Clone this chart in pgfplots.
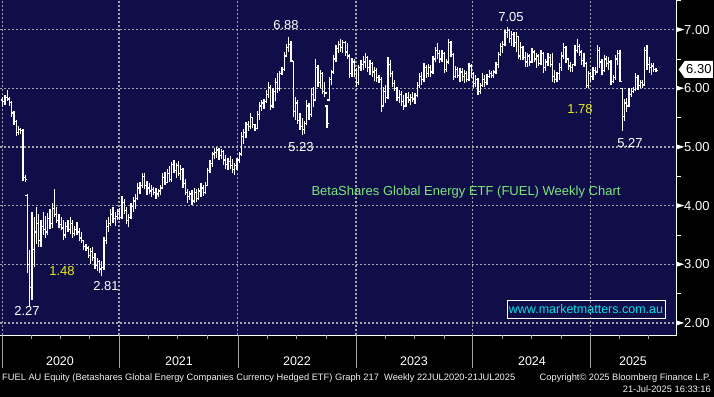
\documentclass[border=0pt]{standalone}
\usepackage{pgfplots}
\pgfplotsset{compat=1.18}
\usepackage{pgfplotstable}
\usepackage{fontspec}
\setmainfont{Liberation Sans}
\usetikzlibrary{shapes.symbols}
\definecolor{navybg}{RGB}{16,14,72}
\definecolor{gridc}{RGB}{165,165,165}
\definecolor{lgreen}{RGB}{125,230,125}
\definecolor{cyanx}{RGB}{0,225,235}
\definecolor{yel}{RGB}{235,235,20}
\newcommand{\fs}[1]{\fontsize{#1bp}{#1bp}\selectfont}

\pgfplotstableread{
w o h l c
0 5.80 5.85 5.68 5.78
1 5.78 5.88 5.72 5.84
2 5.84 5.97 5.78 5.82
3 5.82 5.86 5.70 5.76
4 5.76 5.78 5.52 5.58
5 5.58 5.62 5.38 5.44
6 5.44 5.46 5.18 5.25
7 5.25 5.35 5.20 5.30
8 5.30 5.33 5.22 5.28
9 5.28 5.30 4.42 4.48
10 4.48 4.52 4.40 4.45
11 4.18 4.20 2.85 3.00
12 3.00 3.25 2.27 2.60
13 2.60 3.90 2.40 3.25
14 3.25 3.80 2.95 3.55
15 3.55 3.97 3.35 3.70
16 3.70 3.85 3.30 3.40
17 3.40 3.75 3.30 3.65
18 3.65 3.90 3.50 3.60
19 3.60 3.82 3.45 3.55
20 3.55 3.88 3.50 3.78
21 3.78 3.95 3.60 3.70
22 3.70 4.05 3.62 3.95
23 3.95 4.28 3.80 3.85
24 3.85 3.98 3.70 3.75
25 3.75 3.85 3.62 3.68
26 3.68 3.80 3.58 3.62
27 3.62 3.75 3.42 3.50
28 3.50 3.72 3.45 3.65
29 3.65 3.75 3.55 3.60
30 3.60 3.80 3.52 3.70
31 3.70 3.75 3.45 3.52
32 3.52 3.65 3.48 3.60
33 3.60 3.72 3.50 3.55
34 3.55 3.62 3.40 3.45
35 3.45 3.55 3.36 3.40
36 3.40 3.42 3.25 3.30
37 3.30 3.35 3.22 3.28
38 3.28 3.32 3.10 3.15
39 3.15 3.28 3.00 3.22
40 3.22 3.30 3.05 3.12
41 3.12 3.20 2.92 2.98
42 2.98 3.10 2.88 3.05
43 3.05 3.08 2.85 2.92
44 2.92 3.05 2.81 2.95
45 2.95 3.46 2.90 3.40
46 3.40 3.75 3.35 3.65
47 3.65 3.80 3.55 3.70
48 3.70 3.95 3.65 3.85
49 3.85 3.98 3.70 3.78
50 3.78 3.90 3.66 3.82
51 3.82 3.95 3.75 3.90
52 3.90 3.96 3.76 3.80
53 3.80 4.16 3.78 4.05
54 4.05 4.12 3.85 3.92
55 3.92 3.98 3.68 3.75
56 3.75 3.85 3.64 3.80
57 3.80 4.05 3.78 3.98
58 3.98 4.15 3.90 4.08
59 4.08 4.20 3.95 4.12
60 4.12 4.38 4.10 4.30
61 4.30 4.40 4.20 4.35
62 4.35 4.56 4.30 4.50
63 4.50 4.55 4.28 4.35
64 4.35 4.42 4.18 4.30
65 4.30 4.38 4.20 4.25
66 4.25 4.35 4.15 4.28
67 4.28 4.32 4.18 4.22
68 4.22 4.30 4.12 4.20
69 4.20 4.28 4.15 4.25
70 4.25 4.35 4.18 4.30
71 4.30 4.55 4.28 4.48
72 4.48 4.58 4.35 4.40
73 4.40 4.62 4.38 4.55
74 4.55 4.68 4.40 4.45
75 4.45 4.75 4.40 4.70
76 4.70 4.78 4.55 4.60
77 4.60 4.72 4.48 4.68
78 4.68 4.76 4.50 4.55
79 4.55 4.70 4.44 4.62
80 4.62 4.65 4.30 4.38
81 4.38 4.45 4.18 4.22
82 4.22 4.28 4.05 4.15
83 4.15 4.25 4.10 4.20
84 4.20 4.27 4.01 4.08
85 4.08 4.30 4.05 4.22
86 4.22 4.28 4.06 4.12
87 4.12 4.30 4.10 4.25
88 4.25 4.38 4.15 4.30
89 4.30 4.35 4.16 4.22
90 4.22 4.40 4.20 4.35
91 4.35 4.65 4.33 4.60
92 4.60 4.78 4.55 4.72
93 4.72 4.92 4.66 4.88
94 4.88 4.98 4.80 4.90
95 4.90 5.00 4.82 4.95
96 4.95 4.98 4.78 4.85
97 4.85 4.96 4.80 4.92
98 4.92 4.95 4.70 4.78
99 4.78 4.86 4.62 4.70
100 4.70 4.82 4.60 4.75
101 4.75 4.84 4.62 4.68
102 4.68 4.80 4.55 4.62
103 4.62 4.72 4.52 4.68
104 4.68 4.82 4.60 4.78
105 4.78 4.92 4.72 4.88
106 4.88 5.25 4.85 5.18
107 5.18 5.30 5.05 5.25
108 5.25 5.42 5.15 5.38
109 5.38 5.45 5.28 5.35
110 5.35 5.58 5.30 5.50
111 5.50 5.52 5.32 5.38
112 5.38 5.40 5.28 5.32
113 5.32 5.62 5.30 5.55
114 5.55 5.77 5.46 5.70
115 5.70 5.80 5.62 5.75
116 5.75 5.82 5.65 5.78
117 5.78 5.97 5.75 5.90
118 5.90 6.10 5.84 6.02
119 6.02 6.05 5.63 5.70
120 5.70 6.00 5.66 5.95
121 5.95 6.18 5.78 6.10
122 6.10 6.26 5.92 6.00
123 6.00 6.30 5.95 6.25
124 6.25 6.36 6.22 6.32
125 6.32 6.62 6.30 6.55
126 6.55 6.75 6.55 6.70
127 6.70 6.88 6.62 6.75
128 6.75 6.80 6.45 6.48
129 6.46 6.46 5.51 5.60
130 5.60 5.85 5.46 5.75
131 5.75 5.80 5.40 5.45
132 5.45 5.58 5.29 5.35
133 5.35 5.50 5.20 5.30
134 5.30 5.45 5.23 5.40
135 5.40 5.80 5.38 5.70
136 5.70 5.75 5.46 5.55
137 5.55 6.00 5.52 5.90
138 5.90 6.02 5.68 5.80
139 5.80 6.50 5.78 6.35
140 6.35 6.40 6.02 6.10
141 6.10 6.31 6.00 6.25
142 6.25 6.28 5.90 5.95
143 5.95 6.11 5.85 5.92
144 5.70 5.71 5.32 5.40
145 5.80 6.20 5.78 6.15
146 6.15 6.32 6.05 6.28
147 6.28 6.57 6.25 6.50
148 6.50 6.74 6.45 6.68
149 6.68 6.80 6.60 6.75
150 6.75 6.84 6.62 6.70
151 6.70 6.82 6.60 6.78
152 6.78 6.80 6.55 6.62
153 6.62 6.77 6.50 6.55
154 6.55 6.58 6.18 6.25
155 6.25 6.52 6.19 6.45
156 6.45 6.50 6.20 6.30
157 6.30 6.35 6.02 6.10
158 6.10 6.40 6.05 6.35
159 6.35 6.48 6.30 6.40
160 6.40 6.55 6.32 6.45
161 6.45 6.60 6.35 6.52
162 6.52 6.55 6.28 6.35
163 6.35 6.48 6.23 6.42
164 6.42 6.45 6.20 6.28
165 6.28 6.36 6.12 6.30
166 6.30 6.35 6.11 6.18
167 6.18 6.23 6.09 6.15
168 6.15 6.20 5.60 5.70
169 5.70 6.02 5.68 5.95
170 5.95 6.05 5.75 5.85
171 5.85 6.53 5.82 6.40
172 6.40 6.48 6.19 6.25
173 6.25 6.30 6.02 6.08
174 6.08 6.15 5.95 6.00
175 6.00 6.02 5.78 5.85
176 5.85 5.97 5.75 5.90
177 5.90 5.95 5.70 5.78
178 5.78 5.89 5.63 5.70
179 5.70 5.92 5.68 5.85
180 5.85 5.94 5.75 5.80
181 5.80 5.90 5.72 5.85
182 5.85 5.94 5.76 5.82
183 5.82 5.92 5.74 5.88
184 5.88 6.10 5.85 6.05
185 6.05 6.26 6.00 6.20
186 6.20 6.28 6.05 6.15
187 6.15 6.43 6.10 6.35
188 6.35 6.40 6.18 6.25
189 6.25 6.42 6.19 6.35
190 6.35 6.40 6.20 6.28
191 6.28 6.55 6.25 6.50
192 6.50 6.71 6.45 6.65
193 6.65 6.78 6.50 6.60
194 6.60 6.66 6.43 6.50
195 6.50 6.65 6.45 6.60
196 6.60 6.62 6.26 6.32
197 6.32 6.50 6.28 6.45
198 6.45 6.84 6.42 6.78
199 6.78 6.80 6.53 6.58
200 6.58 6.60 6.14 6.20
201 6.20 6.38 6.18 6.32
202 6.32 6.36 6.18 6.22
203 6.22 6.35 6.10 6.28
204 6.28 6.35 6.12 6.20
205 6.20 6.32 6.09 6.25
206 6.25 6.30 6.10 6.15
207 6.15 6.43 6.12 6.38
208 6.38 6.42 6.18 6.25
209 6.25 6.28 6.00 6.08
210 6.08 6.22 6.02 6.15
211 6.15 6.18 5.89 5.95
212 5.95 6.09 5.90 6.05
213 6.05 6.26 6.02 6.15
214 6.15 6.22 6.02 6.10
215 6.10 6.25 6.05 6.20
216 6.20 6.31 6.18 6.25
217 6.25 6.30 6.18 6.22
218 6.22 6.31 6.18 6.28
219 6.28 6.45 6.25 6.40
220 6.40 6.62 6.35 6.58
221 6.58 6.77 6.55 6.72
222 6.72 6.80 6.60 6.75
223 6.75 7.00 6.72 6.95
224 6.95 7.05 6.85 6.98
225 6.98 7.02 6.78 6.85
226 6.85 6.98 6.72 6.92
227 6.92 6.96 6.70 6.78
228 6.78 6.96 6.62 6.88
229 6.88 6.90 6.50 6.55
230 6.55 6.79 6.48 6.70
231 6.70 6.72 6.48 6.52
232 6.52 6.62 6.36 6.45
233 6.45 6.60 6.36 6.55
234 6.55 6.58 6.38 6.45
235 6.45 6.69 6.43 6.62
236 6.62 6.66 6.45 6.50
237 6.50 6.60 6.35 6.55
238 6.55 6.58 6.38 6.42
239 6.42 6.66 6.40 6.60
240 6.60 6.62 6.26 6.35
241 6.35 6.50 6.30 6.45
242 6.45 6.60 6.38 6.52
243 6.52 6.58 6.36 6.40
244 6.40 6.60 6.11 6.20
245 6.20 6.31 6.09 6.15
246 6.15 6.28 6.10 6.25
247 6.25 6.43 6.14 6.35
248 6.35 6.62 6.30 6.55
249 6.55 6.77 6.50 6.70
250 6.70 6.72 6.43 6.50
251 6.50 6.52 6.31 6.38
252 6.38 6.45 6.28 6.35
253 6.35 6.42 6.28 6.40
254 6.40 6.74 6.38 6.65
255 6.65 6.84 6.60 6.72
256 6.72 6.76 6.55 6.62
257 6.62 6.65 6.40 6.48
258 6.48 6.60 6.36 6.42
259 6.42 6.45 6.00 6.05
260 6.05 6.30 6.00 6.25
261 6.25 6.28 6.11 6.20
262 6.20 6.36 6.15 6.30
263 6.30 6.36 6.23 6.28
264 6.28 6.74 6.26 6.65
265 6.65 6.70 6.35 6.45
266 6.45 6.50 6.23 6.30
267 6.30 6.57 6.28 6.50
268 6.50 6.55 6.36 6.42
269 6.42 6.53 6.31 6.45
270 6.45 6.48 6.06 6.12
271 6.12 6.22 6.09 6.18
272 6.18 6.57 6.15 6.50
273 6.50 6.66 6.40 6.60
274 6.60 6.65 6.11 6.12
275 6.00 6.00 5.28 5.52
276 5.52 5.82 5.45 5.75
277 5.75 5.83 5.60 5.70
278 5.70 6.00 5.68 5.90
279 5.90 6.00 5.85 5.95
280 5.95 6.02 5.92 5.98
281 5.98 6.26 5.96 6.18
282 6.18 6.22 5.97 6.05
283 6.05 6.14 6.00 6.10
284 6.10 6.14 6.00 6.05
285 6.06 6.71 6.05 6.65
286 6.65 6.74 6.31 6.40
287 6.40 6.53 6.26 6.35
288 6.35 6.43 6.23 6.38
289 6.38 6.43 6.28 6.32
290 6.32 6.34 6.28 6.30
}\fuel

\begin{document}
\begin{tikzpicture}
\path[use as bounding box] (0,0) rectangle (714bp,397bp);
\fill[black] (0,0) rectangle (714bp,397bp);
\begin{axis}[
  at={(0bp,62bp)}, anchor=south west,
  width=676.5bp, height=335bp, scale only axis,
  xmin=-1.2, xmax=299.1, ymin=1.796, ymax=7.506,
  axis background/.style={fill=navybg},
  axis x line*=bottom, axis y line*=right,
  axis line style={white, line width=0.9bp},
  xtick={0,51.6,104.4,156.8,208.6,260.8}, xticklabel={},
  major tick length=0pt, minor tick length=4bp, tick align=outside,
  ytick={2,3,4,5,6,7}, minor ytick={2.5,3.5,4.5,5.5,6.5,7.5},
  minor tick style={white, line width=0.9bp},
  xmajorgrids, ymajorgrids,
  major grid style={gridc, line width=1.2bp, dash pattern=on 1.5bp off 2.5bp},
  /pgf/number format/assume math mode=true,
  yticklabel={\tikz[baseline=-4.6bp]\fill[white] (0,-2.3bp)--(7bp,0)--(0,2.3bp)--cycle;\pgfmathprintnumber[fixed,fixed zerofill,precision=2]{\tick}},
  yticklabel style={anchor=west, inner sep=0pt, xshift=0.5bp, text=white, font=\fs{13}},
  clip=false,
]
\addplot[draw=none, mark=none, error bars/.cd, y dir=plus, y explicit, error mark=none,
  error bar style={draw=white, line width=1.25bp}]
  table[x=w, y=l, y error expr=\thisrow{h}-\thisrow{l}] {\fuel};
\addplot[draw=none, mark=none, error bars/.cd, x dir=minus, x fixed=0.9, error mark=none,
  error bar style={draw=white, line width=1.2bp}]
  table[x=w, y=o] {\fuel};
\addplot[draw=none, mark=none, error bars/.cd, x dir=plus, x fixed=0.9, error mark=none,
  error bar style={draw=white, line width=1.2bp}]
  table[x=w, y=c] {\fuel};
\end{axis}
\begin{scope}[x=1bp,y=1bp]
\foreach \xx in {2.7,119,238,356,472.7,590.3} \draw[gridc, line width=1bp] (\xx,62) -- (\xx,29);
\foreach \xx in {31.8,60.8,89.9,148.2,177.8,207.1,267.2,296.5,326.0,385.3,414.5,444.1,502.2,531.5,561.0,619.6,648.9}
  \draw[gridc, line width=1bp] (\xx,62) -- (\xx,58);
\foreach \xx/\yy in {60/2020,179/2021,297/2022,414/2023,532/2024,633/2025}
  \node[text=white, font=\fs{12.5}] at (\xx,36) {\yy};
% annotations
\node[text=white, font=\fs{13}] at (286,372) {6.88};
\node[text=white, font=\fs{13}] at (301,250) {5.23};
\node[text=white, font=\fs{13}] at (511,380) {7.05};
\node[text=yel, font=\fs{13}] at (580,287.5) {1.78};
\node[text=white, font=\fs{13}] at (630,254) {5.27};
\node[text=white, font=\fs{13}] at (27,86) {2.27};
\node[text=yel, font=\fs{13}] at (62,126) {1.48};
\node[text=white, font=\fs{13}] at (106,111) {2.81};
\node[text=lgreen, font=\fs{13}] at (466,205) {BetaShares Global Energy ETF (FUEL) Weekly Chart};
\node[draw=white, line width=0.9bp, text=cyanx, font=\fs{12.5}, minimum width=158bp, minimum height=18.3bp, inner sep=0pt] at (586,87.8) {www.marketmatters.com.au};
\node[signal, signal to=west, signal pointer angle=110, fill=white, text=black, font=\fs{13}, inner xsep=1.5bp, inner ysep=2bp, minimum height=17bp, anchor=west] at (678.5,327.5) {6.30};
% footer
\node[text=white!90!gray, font=\fs{9.3}, anchor=west, inner sep=0pt] at (2,19) {FUEL AU Equity (Betashares Global Energy Companies Currency Hedged ETF) Graph 217\ \ Weekly 22JUL2020-21JUL2025};
\node[text=white!90!gray, font=\fs{9.3}, anchor=east, inner sep=0pt] at (711,19) {Copyright© 2025 Bloomberg Finance L.P.};
\node[text=white!90!gray, font=\fs{9.3}, anchor=east, inner sep=0pt] at (711,7.5) {21-Jul-2025 16:33:16};
\end{scope}
\end{tikzpicture}
\end{document}
